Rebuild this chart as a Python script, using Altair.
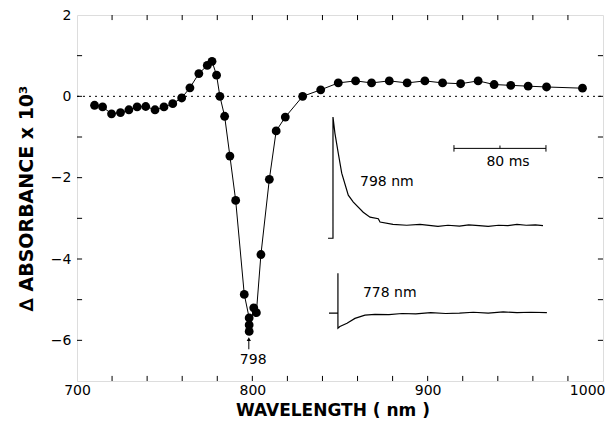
import altair as alt
import pandas as pd

# ---- main spectrum ----
wavelength = [710.0, 714.6, 719.7, 724.8, 729.6, 734.3, 739.2, 744.5, 749.6, 754.6,
              759.7, 764.4, 769.5, 774.3, 777.0, 779.6, 781.5, 784.2, 787.2, 790.5,
              795.4, 798.2, 798.2, 798.2, 800.8, 802.3, 804.9, 809.7, 813.6, 818.8,
              828.7, 839.0, 849.0, 858.9, 868.0, 878.1, 888.3, 898.4, 908.5, 918.8,
              928.8, 937.9, 947.4, 957.3, 967.8, 988.3]
delta_abs = [-0.22, -0.26, -0.43, -0.40, -0.33, -0.26, -0.25, -0.33, -0.26, -0.18,
             -0.04, 0.21, 0.56, 0.76, 0.86, 0.52, 0.00, -0.49, -1.47, -2.56,
             -4.87, -5.45, -5.62, -5.78, -5.20, -5.32, -3.89, -2.04, -0.85, -0.51,
             0.00, 0.16, 0.33, 0.38, 0.33, 0.38, 0.33, 0.38, 0.33, 0.31,
             0.38, 0.29, 0.27, 0.25, 0.23, 0.20]

# ---- inset kinetic traces (time in ms, signal in plot units) ----
t798 = [-4.3, 0.0, 0.0, 1.7, 4.6, 7.6, 13.3, 17.7, 26.3, 32.2, 39.4, 40.9, 52.2, 64.1,
        75.7, 91.3, 100, 110, 118, 127, 135, 144, 152, 160, 168, 176, 182.6]
s798 = [-3.49, -3.49, -0.51, -0.91, -1.40, -1.89, -2.43, -2.60, -2.85, -2.97, -3.01,
        -3.09, -3.15, -3.17, -3.15, -3.20, -3.17, -3.19, -3.16, -3.18, -3.20, -3.17,
        -3.18, -3.15, -3.17, -3.16, -3.18]
t778 = [-3.5, 4.3, 4.3, 4.3, 6.0, 12.2, 19.1, 27.8, 36.5, 48.7, 60, 72, 85, 98, 110,
        122, 135, 148, 160, 172, 186]
s778 = [-5.33, -5.33, -4.35, -5.70, -5.66, -5.58, -5.46, -5.38, -5.36, -5.37, -5.34,
        -5.35, -5.32, -5.34, -5.33, -5.31, -5.33, -5.30, -5.32, -5.31, -5.32]

scalebar_t = [105.2, 185.2]
scalebar_mid = [145.2]
scalebar_level = -1.28

x_labels = [700, 800, 900, 1000]
x_minor = list(range(720, 1000, 20))
y_labels = [2, 0, -2, -4, -6]
y_minor = [-6, -5, -4, -3, -2, -1, 0, 1]

X_MIN, X_MAX, Y_MIN, Y_MAX = 700, 1000, -7, 2
TICK_X = 2.9    # inward tick length in nm units (~5 px)
TICK_Y = 0.125  # inward tick length in absorbance units (~5 px)

FONT = "DejaVu Sans"

spec_df = pd.DataFrame({"wavelength": wavelength, "dA": delta_abs,
                        "order": list(range(len(wavelength)))})
zero_df = pd.DataFrame({"wavelength": [X_MIN, X_MAX], "dA": [0, 0]})
tr_df = pd.concat([
    pd.DataFrame({"t": t798, "s": s798, "trace": "798", "order": range(len(t798))}),
    pd.DataFrame({"t": t778, "s": s778, "trace": "778", "order": range(len(t778))}),
])
bar_df = pd.DataFrame({"t": scalebar_t, "s": [scalebar_level] * 2})
cap_df = pd.DataFrame({"t": scalebar_t + scalebar_mid,
                       "s1": [scalebar_level - 0.08, scalebar_level - 0.08, scalebar_level],
                       "s2": [scalebar_level + 0.08, scalebar_level + 0.08, scalebar_level + 0.07]})
inset_txt = pd.DataFrame({"t": [23.5, 26.0, 152.2], "s": [-2.11, -4.84, -1.62],
                          "label": ["798 nm", "778 nm", "80 ms"],
                          "align": ["left", "left", "center"]})
peak_df = pd.DataFrame({"wavelength": [798.0], "y1": [-6.22], "y2": [-5.97],
                        "ty": [-6.49], "tx": [800.5], "label": ["798"]})

# inward frame ticks (data units)
xt_df = pd.concat([
    pd.DataFrame({"wl": x_minor, "a1": Y_MIN, "a2": Y_MIN + TICK_Y}),
    pd.DataFrame({"wl": x_minor, "a1": Y_MAX - TICK_Y, "a2": Y_MAX}),
])
yt_df = pd.concat([
    pd.DataFrame({"a": y_minor, "w1": X_MIN, "w2": X_MIN + TICK_X}),
    pd.DataFrame({"a": y_minor, "w1": X_MAX - TICK_X, "w2": X_MAX}),
])

xs = alt.Scale(domain=[X_MIN, X_MAX], nice=False, zero=False)
ys = alt.Scale(domain=[Y_MIN, Y_MAX], nice=False, zero=False)
ts = alt.Scale(domain=[-222.6, 234.8], nice=False, zero=False)

ax_x_lab = alt.Axis(orient="bottom", values=x_labels, ticks=False, domain=False, grid=False,
                    labelPadding=2, labelFont=FONT, labelFontSize=14, labelColor="black",
                    labelAlign={"condition": {"test": "datum.value == 1000", "value": "right"},
                                "value": "center"},
                    labelOffset={"condition": {"test": "datum.value == 1000", "value": 2},
                                 "value": 0},
                    format="d", title="WAVELENGTH ( nm )", titleFont=FONT, titleFontSize=17,
                    titleFontWeight="bold", titleColor="black", titleX=255.5, titleY=34,
                    titleAlign="center", titleBaseline="alphabetic", labelFlush=False)
ax_y_lab = alt.Axis(orient="left", values=y_labels, ticks=False, domain=False, grid=False,
                    labelPadding=6, labelFont=FONT, labelFontSize=14, labelColor="black",
                    format="d", title="∆ ABSORBANCE x 10³", titleFont=FONT, titleFontSize=19,
                    titleFontWeight="bold", titleColor="black", titleX=-45, titleY=183,
                    titleAngle=-90, titleAlign="center", titleBaseline="alphabetic",
                    labelFlush=False)

points = alt.Chart(spec_df).mark_circle(size=78, color="black", opacity=1).encode(
    x=alt.X("wavelength:Q", scale=xs, axis=ax_x_lab),
    y=alt.Y("dA:Q", scale=ys, axis=ax_y_lab),
)
curve = alt.Chart(spec_df).mark_line(color="black", strokeWidth=1).encode(
    x=alt.X("wavelength:Q", scale=xs, axis=None),
    y=alt.Y("dA:Q", scale=ys, axis=None),
    order="order:Q",
)
zero = alt.Chart(zero_df).mark_line(color="black", strokeWidth=1, strokeDash=[2, 4]).encode(
    x=alt.X("wavelength:Q", scale=xs, axis=None),
    y=alt.Y("dA:Q", scale=ys, axis=None),
)
xticks = alt.Chart(xt_df).mark_rule(color="black", strokeWidth=1).encode(
    x=alt.X("wl:Q", scale=xs, axis=None),
    y=alt.Y("a1:Q", scale=ys, axis=None),
    y2="a2:Q",
)
yticks = alt.Chart(yt_df).mark_rule(color="black", strokeWidth=1).encode(
    x=alt.X("w1:Q", scale=xs, axis=None),
    x2="w2:Q",
    y=alt.Y("a:Q", scale=ys, axis=None),
)
traces = alt.Chart(tr_df).mark_line(color="black", strokeWidth=1.2).encode(
    x=alt.X("t:Q", scale=ts, axis=None),
    y=alt.Y("s:Q", scale=ys, axis=None),
    detail="trace:N",
    order="order:Q",
)
bar = alt.Chart(bar_df).mark_line(color="black", strokeWidth=1).encode(
    x=alt.X("t:Q", scale=ts, axis=None),
    y=alt.Y("s:Q", scale=ys, axis=None),
)
caps = alt.Chart(cap_df).mark_rule(color="black", strokeWidth=1).encode(
    x=alt.X("t:Q", scale=ts, axis=None),
    y=alt.Y("s1:Q", scale=ys, axis=None),
    y2="s2:Q",
)
txt_left = alt.Chart(inset_txt[inset_txt["align"] == "left"]).mark_text(
    font=FONT, fontSize=14, color="black", align="left", baseline="middle").encode(
    x=alt.X("t:Q", scale=ts, axis=None),
    y=alt.Y("s:Q", scale=ys, axis=None),
    text="label:N",
)
txt_center = alt.Chart(inset_txt[inset_txt["align"] == "center"]).mark_text(
    font=FONT, fontSize=14, color="black", align="center", baseline="middle").encode(
    x=alt.X("t:Q", scale=ts, axis=None),
    y=alt.Y("s:Q", scale=ys, axis=None),
    text="label:N",
)
arrow = alt.Chart(peak_df).mark_rule(color="black", strokeWidth=1).encode(
    x=alt.X("wavelength:Q", scale=xs, axis=None),
    y=alt.Y("y1:Q", scale=ys, axis=None),
    y2="y2:Q",
)
arrow_head = alt.Chart(peak_df).mark_point(shape="triangle-up", size=18, filled=True,
                                           color="black", opacity=1).encode(
    x=alt.X("wavelength:Q", scale=xs, axis=None),
    y=alt.Y("y2:Q", scale=ys, axis=None),
)
peak_txt = alt.Chart(peak_df).mark_text(font=FONT, fontSize=14, color="black",
                                        align="center", baseline="middle").encode(
    x=alt.X("tx:Q", scale=xs, axis=None),
    y=alt.Y("ty:Q", scale=ys, axis=None),
    text="label:N",
)

chart = alt.layer(
    points, curve, zero, xticks, yticks, traces, bar, caps, txt_left, txt_center,
    arrow, arrow_head, peak_txt
).resolve_scale(x="independent", y="independent").resolve_axis(
    x="independent", y="independent"
).properties(
    width=526, height=366,
    autosize=alt.AutoSizeParams(type="none"),
    padding={"left": 69, "top": 7, "right": 2, "bottom": 38},
).configure_view(stroke="black", strokeWidth=1.2).configure(background="white")

chart.save("out.html", embed_options={"renderer": "svg", "actions": False})
